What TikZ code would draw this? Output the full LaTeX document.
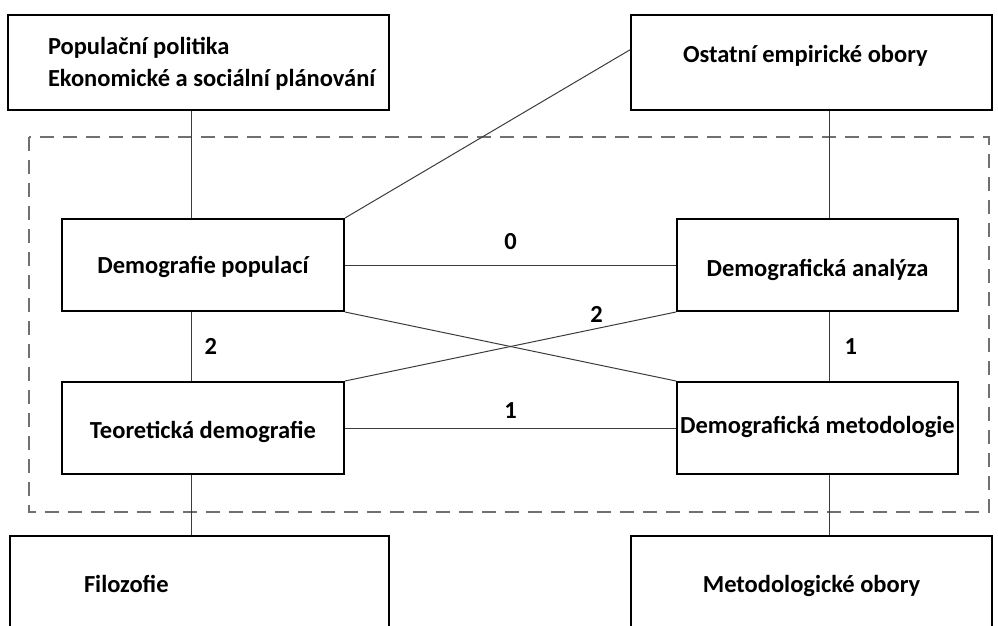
\documentclass[tikz,border=0pt]{standalone}
\usepackage{fontspec}
\setmainfont{Carlito}
\usepackage{tikz}
\usetikzlibrary{calc}
\definecolor{linkgray}{RGB}{60,60,60}
\definecolor{framegray}{RGB}{112,112,112}
\tikzstyle{fieldbox}=[rectangle,draw=black,fill=white,line width=2pt,
                      font=\fontsize{24.5}{32}\selectfont\bfseries,inner sep=0pt]
\tikzstyle{link}=[draw=linkgray,line width=1pt]
\tikzstyle{weight}=[font=\fontsize{24.5}{32}\selectfont\bfseries,inner sep=0pt]
\tikzset{boxdim/.style 2 args={minimum width=#1pt,minimum height=#2pt},
         capline/.style={text height=#1pt,text depth=0pt}}
\newcommand\leftlabel[2]{\makebox[#1][l]{#2}}
\newcommand\twolabel[3]{\parbox[t]{#1}{\leftlabel{#1}{#2}\\\leftlabel{#1}{#3}}}
\newcommand\leftaxis{191}
\newcommand\rightaxis{829}

\begin{document}
\begin{tikzpicture}[x=1pt,y=-1pt]
    	\useasboundingbox (0,0) rectangle (998,626);
    	\draw [framegray,line width=2.4pt,dash pattern=on 14pt off 9pt] (29,137) rectangle (989,512);
    	\coordinate (leftaxis) at (\leftaxis,0);
    	\coordinate (rightaxis) at (\rightaxis,0);

    	\node [fieldbox,boxdim={381}{95},text height=17pt,text depth=32pt] (politika) at (198.5,62.5) {
    		\twolabel{301pt}{Populační politika}{Ekonomické a sociální plánování}
    	};
    	\node [fieldbox,boxdim={361}{95},capline=0.8] (empirie) at (811.5,62.5) {\leftlabel{257pt}{Ostatní empirické obory}};
    	\node [fieldbox,boxdim={282}{92},capline=17.8] (populace) at (203,265) {Demografie populací};
    	\node [fieldbox,boxdim={281}{92},capline=22.8] (analyza) at (817.5,265) {Demografická analýza};
    	\node [fieldbox,boxdim={282}{92},capline=21.8] (teorie) at (203,428) {Teoretická demografie};
    	\node [fieldbox,boxdim={281}{92},capline=10.8] (metodologie) at (817.5,428) {Demografická metodologie};
    	\node [fieldbox,boxdim={379}{104},capline=8.8] (filozofie) at (199.5,588) {\leftlabel{231pt}{Filozofie}};
    	\node [fieldbox,boxdim={361}{104},capline=9.8] (metobory) at (811.5,588) {Metodologické obory};

    	\draw [link] (politika.south -| leftaxis) -- (populace.north -| leftaxis);
    	\draw [link] (populace.south -| leftaxis) -- node [weight,anchor=west,xshift=13pt] {2} (teorie.north -| leftaxis);
    	\draw [link] (teorie.south -| leftaxis) -- (filozofie.north -| leftaxis);
    	\draw [link] (empirie.south -| rightaxis) -- (analyza.north -| rightaxis);
    	\draw [link] (analyza.south -| rightaxis) -- node [weight,anchor=west,xshift=15pt] {1} (metodologie.north -| rightaxis);
    	\draw [link] (metodologie.south -| rightaxis) -- (metobory.north -| rightaxis);
    	\draw [link] (empirie.176) -- (populace.north east);
    	\draw [link] (populace) -- node [weight,anchor=south,yshift=15pt] {0} (analyza);
    	\draw [link] (teorie) -- node [weight,anchor=south,yshift=9pt] {1} (metodologie);
    	\draw [link] (populace.south east) -- (metodologie.north west);
    	\draw [link] (teorie.north east) -- node [weight,pos=0.76,anchor=south,yshift=6pt] {2} (analyza.south west);
    \end{tikzpicture}
\end{document}
